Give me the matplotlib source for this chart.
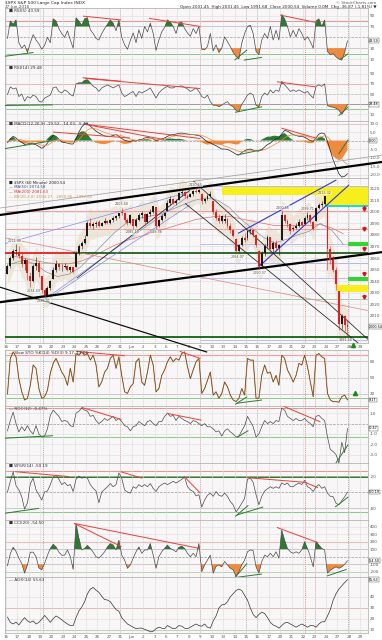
import matplotlib
matplotlib.use("Agg")
import matplotlib.pyplot as plt
import numpy as np

# ---------------- data ----------------
day_labels = ['16', '17', '18', '19', '20', '23', '24', '25', '26', '27', '31', 'Jun',
              '2', '3', '6', '7', '8', '9', '10', '13', '14', '15', '16', '17',
              '20', '21', '22', '23', '24', '27', '28', '29']
bars_per_day = 4

# price bars (4 per trading day, May 16 .. Jun 27 2016)
bar_open = [2046.5, 2053, 2060, 2066,  2065.4, 2062, 2055, 2058,
            2044.4, 2040, 2053, 2056,  2044.2, 2032, 2028, 2034,
            2041.9, 2050, 2055, 2052,  2052.2, 2053, 2050, 2052,
            2052.6, 2064, 2070, 2073,  2078.9, 2090, 2088, 2089,
            2091.4, 2088, 2090, 2092,  2090.1, 2093, 2095, 2096,
            2100.1, 2099, 2093, 2090,  2093.9, 2088, 2093, 2097,
            2097.7, 2091, 2098, 2100,  2104.1, 2088, 2093, 2096,
            2100.8, 2108, 2111, 2108,  2110.2, 2116, 2117, 2114,
            2112.7, 2115, 2118, 2117,  2115.7, 2109, 2111, 2114,
            2109.6, 2100, 2095, 2092,  2091.8, 2094, 2088, 2084,
            2076.6, 2066, 2071, 2077,  2077.6, 2083, 2084, 2080,
            2066.4, 2053, 2064, 2070,  2078.2, 2068, 2073, 2069,
            2075.6, 2097, 2092, 2089,  2085.2, 2086, 2088, 2091,
            2089.8, 2095, 2097, 2091,  2092.0, 2103, 2106, 2107,
            2103.8, 2068, 2058, 2050,  2031.45, 2003, 2010, 2002]
bar_high = [2055, 2062, 2068, 2071.9,  2070.2, 2064, 2060, 2059,
            2048, 2055, 2060.6, 2057,  2044.2, 2034, 2036, 2041,
            2052, 2058.4, 2056, 2055,  2055.6, 2054, 2053, 2052,
            2066, 2072, 2075, 2079.7,  2092, 2094.7, 2091, 2092,
            2093, 2091, 2094.3, 2093,  2094, 2096, 2097, 2099.1,
            2103.5, 2100, 2095, 2098,  2094, 2095, 2099, 2101,
            2099, 2099, 2102, 2105.3,  2104.1, 2094, 2098, 2100,
            2110, 2113.4, 2112, 2111,  2117, 2119.2, 2118, 2115,
            2116, 2119, 2120.55, 2120,  2116, 2112, 2115, 2117.6,
            2109.6, 2102, 2098, 2097,  2098.1, 2095, 2090, 2085,
            2077, 2072, 2079, 2081.3,  2084, 2085.9, 2085, 2081,
            2067, 2066, 2072, 2079.6,  2078.2, 2075, 2076, 2072,
            2100.7, 2098, 2094, 2090,  2088, 2090, 2093.7, 2092,
            2096, 2099.7, 2098, 2092,  2104, 2108, 2109, 2113.3,
            2103.8, 2070, 2062, 2052,  2031.45, 2012, 2011, 2006]
bar_low = [2046.5, 2051, 2058, 2063,  2060, 2052, 2050, 2040.8,
           2034.5, 2039, 2050, 2044,  2030, 2025.9, 2027, 2032,
           2041.9, 2048, 2050, 2049,  2051, 2049, 2048, 2047.3,
           2052.6, 2063, 2068, 2072,  2078.9, 2086, 2085, 2087,
           2087.1, 2087.5, 2089, 2089,  2089, 2091, 2093, 2095,
           2097, 2091, 2088.7, 2089,  2085.1, 2087, 2092, 2095,
           2088.5, 2090, 2096, 2099,  2085.4, 2087, 2092, 2095,
           2100.8, 2106, 2107, 2106,  2110.2, 2114, 2112, 2111,
           2112.7, 2114, 2116, 2116,  2107.1, 2108, 2110, 2113,
           2098, 2093, 2090, 2090,  2090, 2086, 2082, 2078.5,
           2064.1, 2065, 2070, 2074,  2076, 2081, 2078, 2069.8,
           2050.4, 2052, 2062, 2069,  2066, 2064, 2066, 2062.8,
           2075.6, 2090, 2087, 2081,  2083, 2085, 2087, 2087,
           2089, 2093, 2090, 2084.4,  2092, 2102, 2104, 2106,
           2050, 2055, 2048, 2032.6,  1998, 1999, 1997, 1991.68]
bar_close = [2053, 2060, 2066, 2066.7,  2062, 2055, 2058, 2047.2,
             2040, 2053, 2056, 2047.6,  2032, 2028, 2034, 2040.0,
             2050, 2055, 2052, 2052.3,  2053, 2050, 2052, 2048.0,
             2064, 2070, 2073, 2076.1,  2090, 2088, 2089, 2090.5,
             2088, 2090, 2092, 2090.1,  2093, 2095, 2096, 2099.1,
             2099, 2093, 2090, 2096.9,  2088, 2093, 2097, 2099.3,
             2091, 2098, 2100, 2105.3,  2088, 2093, 2096, 2099.1,
             2108, 2111, 2108, 2109.4,  2116, 2117, 2114, 2112.1,
             2115, 2118, 2117, 2119.1,  2109, 2111, 2114, 2115.5,
             2100, 2095, 2092, 2096.1,  2094, 2088, 2084, 2079.1,
             2066, 2071, 2077, 2075.3,  2083, 2084, 2080, 2071.5,
             2053, 2064, 2070, 2078.0,  2068, 2073, 2069, 2071.2,
             2097, 2092, 2089, 2083.3,  2086, 2088, 2091, 2088.9,
             2095, 2097, 2091, 2085.5,  2103, 2106, 2107, 2113.3,
             2068, 2058, 2050, 2037.4,  2003, 2010, 2002, 2000.54]

# moving averages, one value per day
ma_fast = [2055, 2058, 2055, 2048, 2044, 2046, 2052, 2062, 2072, 2082,
           2090, 2094, 2096, 2098, 2102, 2106, 2110, 2112, 2110, 2104,
           2094, 2086, 2078, 2073, 2076, 2080, 2083, 2090, 2084, 2072]
ma_slow = [2062, 2060, 2058, 2056, 2055, 2055, 2057, 2061, 2066, 2071,
           2075, 2078, 2081, 2084, 2087, 2090, 2093, 2095, 2096, 2096,
           2094, 2092, 2090, 2088, 2088, 2088, 2088, 2089, 2086, 2081]

# labelled pivots
pivot_day = [0.8, 2.4, 3.3, 10.1, 11.1, 13.1, 16.6, 20.3, 22.2, 24.2, 26.4, 27.9, 29.7]
pivot_price = [2071.90, 2034.49, 2025.91, 2103.48, 2085.10, 2085.36, 2120.55,
               2064.07, 2050.37, 2100.66, 2099.71, 2113.32, 1991.68]
pivot_kind = ['H', 'L', 'L', 'H', 'L', 'L', 'H', 'L', 'L', 'H', 'H', 'H', 'L']

rsi5 = [48, 80, 74, 82,  40, 30, 36, 22,  40, 55, 45, 38,  28, 35, 50, 40,
        84, 80, 66, 57,  50, 62, 45, 30,  86, 80, 72, 84,  86, 64, 57, 48,
        45, 57, 66, 74,  82, 76, 62, 82,  50, 36, 28, 44,  58, 40, 64, 48,
        70, 60, 76, 57,  26, 45, 60, 68,  82, 78, 70, 57,  76, 78, 66, 58,
        52, 66, 57, 70,  28, 27, 33, 57,  25, 36, 22, 30,  51, 42, 33, 22,
        15, 10, 39, 57,  70, 72, 57, 24,  18, 45, 57, 48,  70, 45, 63, 45,
        92, 84, 70, 51,  63, 51, 66, 57,  45, 51, 42, 30,  80, 84, 70, 82,
        24, 18, 20, 14,  10, 8, 22, 43.59]
rsi14 = [49, 64, 60, 62,  45, 50, 36, 45,  42, 48, 45, 36,  34, 42, 45, 48,
         62, 64, 55, 52,  58, 55, 49, 46,  70, 72, 72, 77,  78, 72, 65, 62,
         55, 62, 65, 68,  65, 62, 65, 68,  52, 45, 48, 52,  55, 45, 55, 52,
         55, 58, 62, 52,  42, 52, 58, 62,  65, 62, 62, 65,  65, 66, 63, 60,
         55, 58, 62, 55,  45, 42, 48, 35,  28, 28, 25, 28,  32, 35, 28, 25,
         18, 15, 30, 38,  48, 52, 48, 28,  25, 45, 52, 48,  58, 52, 58, 55,
         75, 68, 62, 55,  58, 55, 58, 55,  52, 55, 48, 42,  65, 68, 65, 70,
         27, 25, 24, 22,  18, 10, 19, 29.48]
macd = [-1.3, 1.0, 2.5, 1.5,  0.0, -1.0, -2.3, -2.0,  -1.5, -2.0, -2.5, -3.5,
        -4.5, -3.5, -1.5, 1.0,  3.0, 2.5, 0.8, -0.8,  -1.2, -1.5, -2.0, -2.0,
        1.0, 5.0, 8.0, 9.8,  10.0, 8.5, 7.0, 5.5,  4.5, 3.5, 2.7, 2.5,
        2.5, 3.0, 3.5, 2.5,  1.2, 0.2, -0.3, -0.5,  0.0, -0.3, 0.5, 0.6,
        1.5, 1.8, 1.5, 1.0,  0.0, 0.4, 1.0, 1.5,  2.5, 3.2, 3.6, 3.8,
        4.3, 4.4, 4.2, 3.8,  3.5, 3.5, 3.2, 3.0,  2.0, 0.5, -0.8, -1.3,
        -2.3, -3.0, -4.0, -5.0,  -5.0, -5.2, -6.0, -7.0,  -8.0, -8.5, -7.0, -6.0,
        -5.2, -5.0, -5.6, -6.0,  -6.2, -5.2, -3.8, -2.3,  -1.5, 0.0, 1.0, 1.5,
        4.0, 6.0, 5.5, 4.5,  3.5, 3.0, 2.5, 2.5,  2.0, 1.0, 0.0, -0.4,
        1.5, 3.8, 4.5, 4.0,  -0.5, -6.0, -11.5, -15.5,  -19.5, -21.5, -21.0, -19.5]
macd_signal = [-0.5, -0.2, 0.4, 0.8,  0.8, 0.4, -0.3, -0.8,  -1.0, -1.3, -1.7, -2.2,
               -2.8, -3.0, -2.6, -1.8,  -0.6, 0.3, 0.6, 0.3,  -0.2, -0.6, -1.1, -1.4,
               -0.9, 0.5, 2.5, 4.5,  6.2, 7.0, 7.2, 6.8,  6.2, 5.5, 4.8, 4.2,
               3.7, 3.5, 3.5, 3.2,  2.8, 2.2, 1.5, 0.9,  0.5, 0.2, 0.2, 0.3,
               0.6, 0.9, 1.1, 1.1,  0.8, 0.7, 0.8, 1.0,  1.4, 2.0, 2.5, 2.9,
               3.3, 3.6, 3.8, 3.8,  3.7, 3.6, 3.5, 3.3,  3.0, 2.4, 1.6, 0.8,
               0.0, -0.8, -1.6, -2.5,  -3.2, -3.8, -4.4, -5.0,  -5.7, -6.4, -6.6, -6.5,
               -6.2, -5.9, -5.8, -5.8,  -5.9, -5.8, -5.3, -4.6,  -3.8, -2.8, -1.8, -1.0,
               0.2, 1.6, 2.6, 3.2,  3.3, 3.2, 3.1, 2.9,  2.7, 2.3, 1.6, 0.9,
               1.0, 1.6, 2.3, 2.8,  2.1, 0.4, -2.2, -5.0,  -8.0, -10.8, -12.8, -14.0]
stoch_k = [20, 85, 97, 88,  48, 24, 9, 12,  36, 73, 67, 30,  12, 15, 27, 58,
           76, 85, 73, 60,  52, 36, 67, 42,  94, 91, 97, 91,  94, 82, 91, 73,
           33, 42, 60, 67,  85, 91, 67, 88,  54, 24, 21, 33,  39, 79, 85, 42,
           36, 60, 91, 73,  24, 30, 54, 64,  79, 88, 79, 85,  82, 94, 97, 70,
           48, 64, 79, 85,  21, 30, 45, 60,  18, 24, 12, 21,  42, 33, 18, 9,
           6, 12, 30, 18,  85, 82, 82, 12,  12, 54, 73, 58,  60, 42, 54, 36,
           91, 85, 64, 54,  42, 54, 76, 73,  91, 70, 42, 15,  91, 94, 88, 85,
           21, 9, 6, 6,  5, 15, 18, 9.17]
roc = [-0.7, 0.3, 1.1, 0.0,  -0.8, -0.3, -0.7, -0.2,  -0.7, -1.0, -0.2, -1.0,
       -1.3, -1.2, -0.5, 0.8,  1.3, 1.0, 0.7, 0.2,  0.3, 0.2, -0.2, -0.3,
       1.0, 1.2, 1.5, 1.3,  1.2, 0.7, 0.8, 0.3,  0.0, 0.2, 0.5, 0.3,
       0.5, 0.7, 0.3, 0.5,  0.2, -0.2, -0.3, -0.7,  -0.3, -0.2, 0.2, 0.0,
       -0.2, 0.2, 0.3, 0.0,  -0.2, 0.2, 0.2, 0.7,  1.0, 0.7, 0.8, 0.3,
       0.7, 0.5, 0.3, 0.2,  0.0, 0.3, 0.2, 0.0,  -0.2, 0.0, -0.3, -0.3,
       -0.5, -0.8, -0.7, -1.2,  -0.7, -0.5, -0.8, -1.0,  -1.3, -1.2, -0.7, -0.2,
       0.7, 0.2, -0.3, -1.3,  -1.0, -0.3, 0.3, 0.0,  0.2, 0.0, 0.3, 0.2,
       1.5, 1.3, 0.7, 0.5,  0.3, 0.5, 0.3, 0.3,  0.5, 0.2, 0.0, -0.3,
       0.7, 0.8, 0.5, 0.3,  -1.3, -2.5, -2.7, -3.0,  -3.8, -1.8, -2.8, -0.47]
willr = [-50, -30, -12, -38,  -46, -59, -82, -70,  -34, -24, -46, -55,  -65, -50, -48, -36,
         -22, -18, -26, -36,  -32, -38, -36, -49,  -26, -20, -24, -22,  -24, -36, -43, -48,
         -70, -50, -45, -40,  -34, -40, -36, -14,  -24, -46, -50, -52,  -40, -43, -36, -40,
         -36, -40, -34, -43,  -49, -40, -36, -33,  -36, -33, -30, -33,  -30, -26, -22, -40,
         -46, -49, -57, -55,  -78, -65, -56, -52,  -58, -49, -56, -58,  -52, -58, -68, -74,
         -87, -80, -71, -62,  -26, -24, -32, -55,  -74, -58, -48, -44,  -40, -43, -40, -43,
         -33, -36, -33, -40,  -40, -36, -33, -36,  -28, -40, -43, -49,  -40, -36, -43, -40,
         -52, -58, -59, -71,  -74, -66, -59, -50.19]
cci = [-120, 40, 125, 70,  -20, -90, -220, -110,  60, 60, 0, -150,  -175, -90, 20, 110,
       165, 130, 60, 20,  20, 90, 0, -170,  440, 250, 90, 110,  150, 110, 60, 0,
       -20, 20, 65, 130,  175, 155, 90, 220,  20, -45, -155, -110,  -20, 65, 130, 45,
       90, 90, 175, 20,  -155, 0, 65, 110,  155, 110, 90, 65,  125, 140, 110, 45,
       0, 45, 0, 175,  -200, -110, -45, 20,  -220, -130, -110, -135,  -65, -110, -155, -175,
       -265, -200, -110, -45,  65, 90, 80, -135,  -220, -65, 20, 0,  45, 0, 65, -20,
       355, 220, 110, 65,  45, 65, 45, 90,  200, 110, 0, -135,  200, 155, 110, 90,
       -220, -180, -155, -135,  -155, -135, -100, -54.5]
adx = [21.5, 16.7, 15.2, 17,  14.3, 18, 21, 18,  16.7, 18, 15.2, 16.7,  19.6, 23, 20, 16.7,
       20, 22.5, 21, 19,  17, 15.2, 13.8, 13.8,  21, 27, 30.6, 35.5,  42.8, 47, 48.5, 46,
       44, 40.4, 37.5, 37,  35.5, 31.7, 28.3, 26.8,  21, 18, 15.2, 13.8,  12.3, 10.9, 11.4, 11.4,
       10.3, 9.4, 8, 8.6,  10.9, 12.3, 11.4, 10.9,  13.8, 12.3, 10.9, 11.4,  13.8, 13.2, 11.4, 10.9,
       12.3, 13.8, 15.2, 13.8,  13.2, 15.2, 12.3, 11.4,  18, 22.5, 29.7, 32.6,  33, 35.5, 40, 42.8,
       45.7, 47, 45.7, 41.3,  37, 29.7, 23.9, 21,  23.9, 26, 24.8, 21,  16.7, 14.3, 13.2, 11.4,
       13.8, 16.1, 16.7, 15.2,  13.8, 12.3, 13.8, 15.2,  13.8, 12.3, 13.8, 13.8,  12.3, 15.2, 17.2, 17.2,
       22.5, 28.3, 37, 42.8,  47, 50, 52.9, 55.63]

# hand drawn annotations (day, value)
red_vlines = [10.0, 17.0, 26.2, 27.05]
gray_vlines = [3.2, 21.0, 22.0, 29.95]

channel_thick = [((-0.53, 2097.2), (32.9, 2143.1)), ((-0.53, 2021.8), (32.9, 2065.1))]
down_thick = [((-0.53, 2034.8), (17.6, 1978.6))]
black_thin = [((16.4, 2126.6), (32.9, 1978.6)), ((15.66, 2107.3), (32.0, 1977.0)),
              ((6.2, 2042.6), (16.1, 2118.8))]
gray_thin = [((-0.53, 2103.2), (32.9, 2149.0))]
blue_thin = [((-0.53, 2071.2), (16.1, 2117.3)), ((3.3, 2023.6), (16.1, 2114.5)),
             ((3.85, 2026.0), (16.1, 2106.0))]
blue_channel = [((20.3, 2081.3), (28.9, 2127.5)), ((22.1, 2052.4), (30.0, 2123.1))]
red_dotted = [((-0.53, 2078.4), (32.9, 2012.1))]
red_levels = [2100.6, 2085.0]
green_levels = [2055.6, 2024.5]
lavender_levels = [2122.0, 2072.0, 2055.4, 2042.4, 1989.0]
support_level = 2064.3
support_switch_day = 5.95
floor_level = 1991.5
yellow_zones = [(2114.5, 2121.5, 18.9), (2105.8, 2121.5, 27.7), (2030.5, 2036.6, 29.0)]
cyan_zones = [(2104.1, 2105.8, 27.9)]
green_zones = [(2070.3, 2073.8, 29.9), (2040.0, 2043.5, 29.9)]
red_arrow_prices = [2102.4, 2085.0, 2067.7, 2046.0, 2026.0]

rsi5_red_lines = [((6.74, 89), (10.06, 82)), ((12.5, 85), (17.0, 70)), ((23.98, 91), (27.2, 77))]
rsi5_green_lines = [((-0.5, 14), (2.4, 22)), ((20.0, 8), (21.1, 27)), ((20.8, 8), (22.4, 13)),
                    ((29.2, 9), (29.95, 20))]
rsi14_red_lines = [((6.7, 82), (10.1, 75)), ((6.9, 80.7), (17.0, 60.7)), ((23.7, 74), (27.1, 64))]
rsi14_green_lines = [((-0.5, 27.3), (4.1, 28.7)), ((20.04, 14), (22.4, 25)), ((29.1, 7.3), (29.95, 25))]
macd_red_lines = [((6.9, 9.6), (17.0, 1.2)), ((6.9, 9.6), (13.8, 0.6)), ((4.1, 5.0), (10.85, 1.5)),
                  ((24.1, 7.3), (27.1, 1.5))]
macd_green_lines = [((-0.5, -5.2), (4.1, 0.0)), ((20.2, -8.5), (22.5, -5.2)), ((29.1, -8.0), (29.95, 0.6))]
sto_red_lines = [((6.13, 98), (10.4, 90)), ((15.2, 98), (17.0, 85))]
sto_green_lines = [((20.04, 1), (21.1, 15)), ((20.2, 3), (22.4, 9))]
roc_red_lines = [((6.6, 1.57), (10.1, 0.4)), ((14.05, 1.0), (17.1, 0.33)), ((24.3, 1.67), (27.5, 0.17))]
roc_green_lines = [((-0.5, -1.43), (4.1, -1.17)), ((20.2, -1.33), (21.2, -0.67)), ((28.8, -3.9), (29.95, -2.0))]
wr_red_lines = [((0.8, -11.8), (5.5, -21)), ((10.03, -11.8), (11.9, -24)), ((15.6, -21), (17.0, -52)),
                ((21.1, -23), (26.3, -32)), ((26.2, -32), (27.3, -42))]
wr_green_lines = [((-0.5, -91), (2.9, -80.5)), ((20.04, -96), (21.2, -75)), ((20.2, -93), (22.5, -78)),
                  ((28.8, -78), (29.95, -59))]
cci_red_lines = [((5.95, 444), (10.1, 133)), ((5.95, 444), (16.9, 111)), ((23.7, 390), (27.3, 186))]
cci_green_lines = [((20.04, -275), (21.1, -89)), ((20.2, -275), (22.4, -231)), ((28.07, -258), (29.8, -169))]

# ---------------- drawing ----------------
W, H = 382, 640
fig = plt.figure(figsize=(W / 100, H / 100), dpi=100)
fig.patch.set_facecolor('white')

BG = '#f8f6f6'
GRID = '#dcdcdc'
GREEN = '#2e7a32'
ORANGE = '#ef8a3e'
RED = '#e8403a'
XMAX = 31.67

x_bar = (np.arange(len(bar_close)) + 0.5) / bars_per_day
x_day = np.arange(len(ma_fast)) + 0.5


def panel(top, bottom, ylim, yticks, fmt='%g'):
    ax = fig.add_axes([5 / W, 1 - bottom / H, 363 / W, (bottom - top) / H])
    ax.set_facecolor(BG)
    ax.set_xlim(-0.09, XMAX)
    ax.set_ylim(*ylim)
    ax.set_xticks(range(len(day_labels)))
    ax.set_xticklabels([])
    ax.set_yticks(yticks)
    ax.set_yticklabels([fmt % t for t in yticks])
    ax.yaxis.tick_right()
    ax.tick_params(length=0, labelsize=3, colors='#555555', pad=1.5)
    ax.grid(True, color=GRID, lw=0.4)
    for s in ax.spines.values():
        s.set_color('#a8a8a8')
        s.set_linewidth(0.5)
    for d in red_vlines:
        ax.axvline(d, color='#e06666', lw=0.5, ls=(0, (1.5, 1.5)), zorder=1)
    for d in gray_vlines:
        ax.axvline(d, color='#909090', lw=0.5, ls=(0, (1.5, 1.5)), zorder=1)
    return ax


def levels(ax, spec):
    for val, col, lw, ls in spec:
        ax.axhline(val, color=col, lw=lw, ls=ls, zorder=1.5)


def trend(ax, segs, col, lw=0.7, clip=True):
    for (x0, y0), (x1, y1) in segs:
        ax.plot([x0, x1], [y0, y1], color=col, lw=lw, zorder=4, clip_on=clip, solid_capstyle='butt')


def osc(ax, vals, upper=None, lower=None, col='#4a4a4a'):
    v = np.array(vals, dtype=float)
    if upper is not None:
        ax.fill_between(x_bar, v, upper, where=v >= upper, interpolate=True, color=GREEN, lw=0, zorder=2)
    if lower is not None:
        ax.fill_between(x_bar, v, lower, where=v <= lower, interpolate=True, color=ORANGE, lw=0, zorder=2)
    ax.plot(x_bar, v, color=col, lw=0.5, zorder=3)


def title(ax, txt, col='#333333'):
    ax.text(0.012, 0.985, txt, transform=ax.transAxes, fontsize=3, va='top', ha='left', color=col, zorder=6)


def tag(ax, val, txt):
    ax.text(1.003, val, txt, transform=ax.get_yaxis_transform(), fontsize=2.4, va='center', ha='left',
            bbox=dict(boxstyle='square,pad=0.1', fc='white', ec='#444444', lw=0.3), zorder=7, clip_on=False)


# header
fig.text(5 / W, 1 - 1.2 / H, '\\$SPX S&P 500 Large Cap Index INDX', fontsize=3.2, va='top', color='#222222')
fig.text(5 / W, 1 - 5.3 / H, '27-Jun-2016', fontsize=3, va='top', color='#444444')
fig.text(376 / W, 1 - 1.2 / H, '\u00a9 StockCharts.com', fontsize=3, va='top', ha='right', color='#555555')
fig.text(376 / W, 1 - 5.3 / H,
         'Open 2031.45  High 2031.45  Low 1991.68  Close 2000.54  Volume 0.0M  Chg -36.87 (-1.81%) \u25bc',
         fontsize=3, va='top', ha='right', color='#222222')

# RSI(5)
ax = panel(8, 65, (-1, 104), [10, 30, 70, 90])
levels(ax, [(80, '#e88080', 0.6, '-'), (70, '#9a9a9a', 0.5, '-'), (50, '#9a9a9a', 0.5, '--'),
            (30, '#9a9a9a', 0.5, '-'), (20, '#7cbf7c', 0.6, '-')])
osc(ax, rsi5, 70, 30)
trend(ax, rsi5_red_lines, RED)
trend(ax, rsi5_green_lines, GREEN)
title(ax, '\u25a0 RSI(5) 43.59')
tag(ax, rsi5[-1], '43.59')

# RSI(14)
ax = panel(65, 121, (-3, 107), [10, 50, 70, 90])
levels(ax, [(70, '#e88080', 0.6, '-'), (50, '#9a9a9a', 0.5, '--'), (30, '#777777', 0.5, '-'),
            (20, '#7cbf7c', 0.6, '-')])
osc(ax, rsi14, 70, 30)
trend(ax, rsi14_red_lines, RED)
trend(ax, rsi14_green_lines, GREEN)
title(ax, '\u25a0 RSI(14) 29.48')
tag(ax, rsi14[-1], '29.48')

# MACD
ax = panel(121, 178, (-22, 11.5), [-20, -15, -10, -5, 5, 10], '%.1f')
m = np.array(macd)
s = np.array(macd_signal)
hist = m - s
levels(ax, [(9.6, '#f0a0a0', 0.6, '-'), (0, '#9a9a9a', 0.5, '--')])
ax.fill_between(x_bar, 0, hist, where=hist >= 0, interpolate=True, color=GREEN, lw=0, zorder=2)
ax.fill_between(x_bar, 0, hist, where=hist <= 0, interpolate=True, color=ORANGE, lw=0, zorder=2)
ax.plot(x_bar, m, color='#222222', lw=0.5, zorder=3)
ax.plot(x_bar, s, color='#f08a3c', lw=0.5, zorder=3)
trend(ax, macd_red_lines, RED)
trend(ax, macd_green_lines, GREEN)
title(ax, '\u25a0 MACD(12,26,9) -19.52, -14.03, -5.49')
tag(ax, 0, '0.00')

# price
ax = panel(178, 343, (1986.5, 2129.2), list(range(2010, 2130, 10)), '%d')
ax.set_zorder(5)
ax.set_xticklabels(day_labels)
ax.tick_params(axis='x', labelsize=3, pad=1.2)
lo = np.array(bar_low)
hi = np.array(bar_high)
ax.fill_between(x_bar, lo - 9, hi + 9, color='#e6dcc2', alpha=0.55, lw=0, zorder=1)
for lo_z, hi_z, d0 in yellow_zones:
    ax.fill_between([d0, XMAX], lo_z, hi_z, color='#f7ee1c', lw=0, zorder=1.6)
for lo_z, hi_z, d0 in cyan_zones:
    ax.fill_between([d0, XMAX], lo_z, hi_z, color='#22d3e0', lw=0, zorder=1.7)
for lo_z, hi_z, d0 in green_zones:
    ax.fill_between([d0, XMAX], lo_z, hi_z, color='#36d336', lw=0, zorder=1.7)
for lv in red_levels:
    ax.axhline(lv, color='#ef8f8f', lw=0.6, zorder=1.5)
for lv in green_levels:
    ax.axhline(lv, color='#98c898', lw=0.6, zorder=1.5)
for lv in lavender_levels:
    ax.plot([17.0, XMAX], [lv, lv], color='#b0b4ef', lw=0.6, zorder=1.5)
ax.plot([-0.09, support_switch_day], [support_level] * 2, color='#e02020', lw=1.3, zorder=3)
ax.plot([support_switch_day, XMAX], [support_level] * 2, color='#1f5e1f', lw=1.3, zorder=3)
ax.axhline(floor_level, color='#1f6e1f', lw=1.4, zorder=3)
ax.plot(x_day, ma_slow, color='#e07070', lw=0.5, zorder=2)
ax.plot(x_day, ma_fast, color='#8a8fa8', lw=0.5, zorder=2)
trend(ax, red_dotted, '#e08080', 0.5)
trend(ax, gray_thin, '#9a9a9a', 0.5, clip=False)
trend(ax, blue_thin, '#7d82e8', 0.45)
trend(ax, blue_channel, '#3434e0', 0.8)
trend(ax, black_thin, '#222222', 0.55)
trend(ax, down_thick, '#111111', 0.9, clip=False)
trend(ax, channel_thick, '#000000', 1.6, clip=False)
# candles
op = np.array(bar_open)
cl = np.array(bar_close)
cols = np.where(cl >= op, '#1a1a1a', '#e02020')
ax.vlines(x_bar, lo, hi, colors=cols, lw=0.4, zorder=5)
ax.bar(x_bar, np.where(np.abs(cl - op) < 0.4, 0.4, cl - op), bottom=op, width=0.17,
       color=cols, lw=0, zorder=5)
for d, p, k in zip(pivot_day, pivot_price, pivot_kind):
    ax.text(d, p + (1.2 if k == 'H' else -1.2), '%.2f' % p, fontsize=2.4, color='#555555',
            ha='center', va='bottom' if k == 'H' else 'top', zorder=6,
            bbox=dict(boxstyle='square,pad=0.05', fc='white', ec='none', alpha=0.6))
for p in red_arrow_prices:
    ax.plot([31.35, 31.35], [p + 2.2, p + 0.5], color='#e01010', lw=0.9, zorder=6)
    ax.plot(31.35, p, marker='v', color='#e01010', ms=2.4, zorder=6)
ax.plot(30.4, 1985.0, marker='^', color='#1b8a1b', ms=3, zorder=6, clip_on=False)
ax.text(0.012, 0.985, '\u25a0 \\$SPX (60 Minute) 2000.54', transform=ax.transAxes, fontsize=2.8,
        va='top', color='#222222', zorder=7)
ax.text(0.012, 0.955, '\u2014 MA(50) 2074.58', transform=ax.transAxes, fontsize=2.8, va='top',
        color='#3b4a9a', zorder=7)
ax.text(0.012, 0.925, '\u2014 MA(200) 2081.63', transform=ax.transAxes, fontsize=2.8, va='top',
        color='#d03030', zorder=7)
ax.text(0.012, 0.895, '\u2014 BB(20,2.0) 2104.27 - 2050.96 - 1997.65', transform=ax.transAxes,
        fontsize=2.8, va='top', color='#c0954a', zorder=7)
tag(ax, cl[-1], '2000.54')

# Slow stochastic
ax = panel(350, 406, (-2, 100.5), [20, 50, 80])
levels(ax, [(92, '#f0a0a0', 0.8, '-'), (80, '#9a9a9a', 0.5, '-'), (50, '#9a9a9a', 0.5, '--'),
            (20, '#9a9a9a', 0.5, '-'), (13, '#7cbf7c', 0.6, '-')])
ax.plot(x_bar, stoch_k, color='#d08a4a', lw=0.8, zorder=3)
ax.plot(x_bar, stoch_k, color='#333333', lw=0.3, zorder=3)
trend(ax, sto_red_lines, RED)
trend(ax, sto_green_lines, GREEN)
ax.plot(30.5, 21.8, marker='^', color='#1b8a1b', ms=3, zorder=6)
title(ax, '\u2014 Slow STO %K(14) %D(3) 9.17, 13.06')
tag(ax, 9.17, '9.17')

# ROC
ax = panel(406, 463, (-3.8, 1.7), [-3, -2, -1, 1], '%.1f')
levels(ax, [(1.5, '#e88080', 0.6, '-'), (0, '#9a9a9a', 0.5, '--'), (-1.3, '#7cbf7c', 0.6, '-')])
osc(ax, roc)
trend(ax, roc_red_lines, RED)
trend(ax, roc_green_lines, GREEN)
title(ax, '\u2014 ROC(12) -0.47%')
tag(ax, roc[-1], '-0.47')

# Williams %R
ax = panel(463, 520, (-102.4, 4.5), [-80, -20])
levels(ax, [(-10, '#e88080', 0.6, '-'), (-22, '#1f6e1f', 1.3, '-'), (-50, '#9a9a9a', 0.5, '--'),
            (-80, '#9a9a9a', 0.5, '-'), (-87, '#7cbf7c', 0.6, '-')])
osc(ax, willr, None, -85)
trend(ax, wr_red_lines, RED)
trend(ax, wr_green_lines, GREEN)
title(ax, '\u25a0 W%R(14) -50.19')
tag(ax, willr[-1], '-50.19')

# CCI
ax = panel(520, 577, (-271, 489), [-200, -100, 100, 200, 300, 400])
levels(ax, [(200, '#f0a0a0', 0.8, '-'), (100, '#9a9a9a', 0.5, '-'), (0, '#9a9a9a', 0.5, '--'),
            (-100, '#9a9a9a', 0.5, '-'), (-200, '#7cbf7c', 0.6, '-')])
osc(ax, cci, 100, -100)
trend(ax, cci_red_lines, RED)
trend(ax, cci_green_lines, GREEN)
title(ax, '\u25a0 CCI(20) -54.50')
tag(ax, cci[-1], '-54.50')

# ADX
ax = panel(577, 633, (7, 58), [10, 20, 30, 40])
ax.set_xticklabels(day_labels)
ax.tick_params(axis='x', labelsize=3, pad=1.2)
levels(ax, [(30, '#e88080', 0.6, '-'), (10, '#7cbf7c', 0.6, '-')])
ax.plot(x_bar, adx, color='#333333', lw=0.5, zorder=3)
title(ax, '\u2014 ADX(14) 55.63')
tag(ax, adx[-1], '55.63')

fig.savefig('out.png', dpi=100)
